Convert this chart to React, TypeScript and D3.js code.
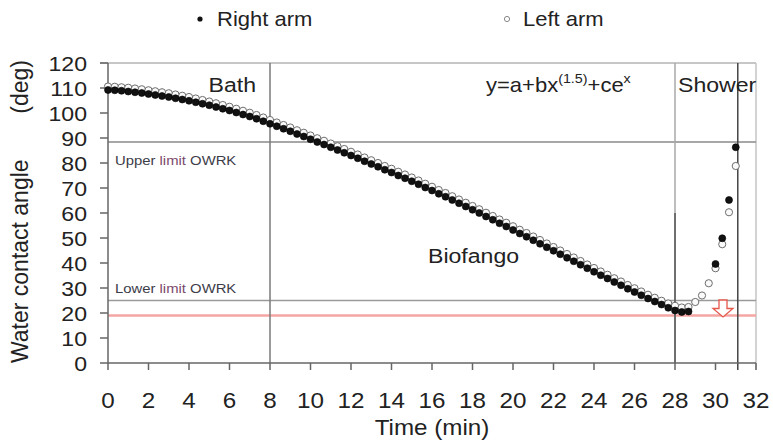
import React from 'react';
import * as d3 from 'd3';

// sample times (seconds), one reading every 20 s
const sampleSeconds = [
  0, 20, 40, 60, 80, 100, 120, 140, 160, 180, 200, 220, 240, 260, 280, 300, 320, 340, 360, 380,
  400, 420, 440, 460, 480, 500, 520, 540, 560, 580, 600, 620, 640, 660, 680, 700, 720, 740, 760, 780,
  800, 820, 840, 860, 880, 900, 920, 940, 960, 980, 1000, 1020, 1040, 1060, 1080, 1100, 1120, 1140, 1160, 1180,
  1200, 1220, 1240, 1260, 1280, 1300, 1320, 1340, 1360, 1380, 1400, 1420, 1440, 1460, 1480, 1500, 1520, 1540, 1560, 1580,
  1600, 1620, 1640, 1660, 1680, 1700, 1720, 1740, 1760, 1780, 1800, 1820, 1840, 1860,
];

const rightArm: (number | null)[] = [
  109.2, 109.1, 108.9, 108.6, 108.3, 108.0, 107.6, 107.2, 106.8, 106.4, 105.9, 105.4,
  104.9, 104.3, 103.7, 103.1, 102.4, 101.7, 101.0, 100.2, 99.4, 98.6, 97.7, 96.7,
  95.7, 94.7, 93.7, 92.7, 91.6, 90.6, 89.5, 88.4, 87.4, 86.3, 85.2, 84.1,
  83.0, 81.9, 80.7, 79.6, 78.5, 77.3, 76.2, 75.0, 73.9, 72.7, 71.5, 70.2,
  69.0, 67.7, 66.5, 65.2, 63.9, 62.6, 61.3, 60.0, 58.6, 57.3, 55.9, 54.6,
  53.2, 51.8, 50.5, 49.1, 47.7, 46.3, 44.9, 43.5, 42.1, 40.7, 39.3, 37.9,
  36.5, 35.1, 33.8, 32.4, 31.1, 29.7, 28.4, 27.1, 25.8, 24.6, 23.4, 22.1,
  21.0, 20.4, 20.6, null, null, null, 39.6, 49.9, 65.2, 86.3,
];

const leftArm: (number | null)[] = [
  110.6, 110.5, 110.3, 110.1, 109.8, 109.5, 109.1, 108.7, 108.3, 107.9, 107.4, 106.9,
  106.4, 105.8, 105.2, 104.6, 103.9, 103.2, 102.5, 101.7, 100.9, 100.1, 99.2, 98.2,
  97.2, 96.2, 95.2, 94.2, 93.1, 92.1, 91.0, 89.9, 88.9, 87.8, 86.7, 85.6,
  84.5, 83.4, 82.2, 81.1, 80.0, 78.8, 77.7, 76.5, 75.4, 74.2, 73.0, 71.7,
  70.5, 69.2, 68.0, 66.7, 65.4, 64.1, 62.8, 61.5, 60.1, 58.8, 57.4, 56.1,
  54.7, 53.3, 52.0, 50.6, 49.2, 47.8, 46.4, 45.0, 43.6, 42.2, 40.8, 39.4,
  38.0, 36.6, 35.3, 33.9, 32.6, 31.2, 29.9, 28.6, 27.3, 26.1, 24.9, 23.8,
  22.9, 22.2, 22.4, 24.4, 27.0, 31.9, 37.9, 47.5, 60.3, 78.8,
];

const xTicks = [0, 2, 4, 6, 8, 10, 12, 14, 16, 18, 20, 22, 24, 26, 28, 30, 32];
const yTicks = [0, 10, 20, 30, 40, 50, 60, 70, 80, 90, 100, 110, 120];

// phase boundaries (min) and reference levels (deg)
const bathEnd = 8;
const showerStart = 28;
const showerEnd = 31.1;
const upperLimit = 88.4;
const lowerLimit = 25;
const redLevel = 19;
const arrowTime = 30.37;

const FONT = '"Liberation Sans", Arial, sans-serif';
const SX = 1.1;

function Label({ x, y, size = 21, anchor = 'start', fill = '#222', children }: any) {
  return (
    <text
      transform={`translate(${x},${y}) scale(${SX},1)`}
      textAnchor={anchor}
      fontSize={size}
      fill={fill}
      fontFamily={FONT}
    >
      {children}
    </text>
  );
}

export default function App() {
  const margin = { top: 63, left: 108 };
  const width = 648, height = 300;

  const x = d3.scaleLinear().domain([0, 32]).range([margin.left, margin.left + width]);
  const y = d3.scaleLinear().domain([0, 120]).range([margin.top + height, margin.top]);

  const pts = (vals: (number | null)[]) =>
    sampleSeconds
      .map((s, i) => ({ t: s / 60, v: vals[i] }))
      .filter((d) => d.v !== null) as { t: number; v: number }[];

  const left = pts(leftArm);
  const right = pts(rightArm);

  const x0 = x(0), x1 = x(32), yB = y(0), yT = y(120);

  // hollow arrow between the grey lower limit and the red line
  const ax = x(arrowTime), aTop = y(lowerLimit) - 0.5, aBot = y(redLevel) + 1.5;
  const aMid = aTop + (aBot - aTop) * 0.5;
  const arrowPath = `M${ax - 4},${aTop} L${ax + 4},${aTop} L${ax + 4},${aMid} L${ax + 10},${aMid} L${ax},${aBot} L${ax - 10},${aMid} L${ax - 4},${aMid} Z`;

  return (
    <svg width={773} height={446} style={{ position: 'absolute', left: 0, top: 0, background: '#fff' }}>
      {/* legend */}
      <circle cx={200} cy={19} r={2.6} fill="#111" />
      <Label x={217} y={26} size={20}>Right arm</Label>
      <circle cx={507} cy={19} r={2.6} fill="#fff" stroke="#888" strokeWidth={1} />
      <Label x={523} y={26} size={20}>Left arm</Label>

      {/* frame */}
      <line x1={x0 - 8} x2={x1} y1={yT} y2={yT} stroke="#b5b5b5" strokeWidth={1.5} />
      <line x1={x1} x2={x1} y1={yT} y2={yB + 7} stroke="#c4c4c4" strokeWidth={1.5} />

      {/* reference levels */}
      <line x1={x0} x2={x1} y1={y(upperLimit)} y2={y(upperLimit)} stroke="#8a8a8a" strokeWidth={1.5} />
      <line x1={x0} x2={x1} y1={y(lowerLimit)} y2={y(lowerLimit)} stroke="#9a9a9a" strokeWidth={1.5} />
      <line x1={x0} x2={x1} y1={y(redLevel)} y2={y(redLevel)} stroke="#f4a6a2" strokeWidth={2.5} />

      {/* phase boundaries */}
      <line x1={x(bathEnd)} x2={x(bathEnd)} y1={yT} y2={yB} stroke="#7a7a7a" strokeWidth={1.5} />
      <line x1={x(showerStart)} x2={x(showerStart)} y1={yT} y2={yB} stroke="#a8a8a8" strokeWidth={1.5} />
      <line x1={x(showerStart)} x2={x(showerStart)} y1={y(60)} y2={yB} stroke="#555" strokeWidth={1.5} />
      <line x1={x(showerEnd)} x2={x(showerEnd)} y1={yT} y2={yB + 7} stroke="#444" strokeWidth={1.5} />

      {/* axes */}
      <line x1={x0} x2={x0} y1={yT} y2={yB} stroke="#666" strokeWidth={1.5} />
      <line x1={x0} x2={x1} y1={yB} y2={yB} stroke="#666" strokeWidth={1.5} />
      {yTicks.map((t) => (
        <g key={'y' + t}>
          <line x1={x0 - 8} x2={x0} y1={y(t)} y2={y(t)} stroke="#666" strokeWidth={1.5} />
          <Label x={87} y={y(t) + 7.5} anchor="end" size={21}>{t}</Label>
        </g>
      ))}
      {xTicks.map((t) => (
        <g key={'x' + t}>
          <line x1={x(t)} x2={x(t)} y1={yB} y2={yB + 7} stroke="#666" strokeWidth={1.5} />
          <Label x={x(t)} y={408} anchor="middle" size={22}>{t}</Label>
        </g>
      ))}

      {/* axis titles */}
      <Label x={x(16)} y={435} anchor="middle" size={22}>Time (min)</Label>
      <text transform={`translate(28,363) scale(1.08,1) rotate(-90)`} fontSize={23} fontFamily={FONT} fill="#222">
        Water contact angle
      </text>
      <text transform={`translate(28,60) scale(1.08,1) rotate(-90)`} textAnchor="end" fontSize={23} fontFamily={FONT} fill="#222">
        (deg)
      </text>

      {/* annotations */}
      <Label x={256} y={92} anchor="end" size={21}>Bath</Label>
      <Label x={486} y={92} size={20}>
        <tspan>y=a+bx</tspan>
        <tspan fontSize={13} dy={-9}>(1.5)</tspan>
        <tspan dy={9}>+ce</tspan>
        <tspan fontSize={13} dy={-9}>x</tspan>
      </Label>
      <Label x={678} y={92} size={21}>Shower</Label>
      <Label x={428} y={263} size={21}>Biofango</Label>
      <Label x={115} y={165} size={13.5}>
        <tspan fill="#3c3c48">Upper </tspan>
        <tspan fill="#7a4a6c">limit</tspan>
        <tspan fill="#3c3c48"> OWRK</tspan>
      </Label>
      <Label x={115} y={293} size={13.5}>
        <tspan fill="#3c3c48">Lower </tspan>
        <tspan fill="#7a4a6c">limit</tspan>
        <tspan fill="#3c3c48"> OWRK</tspan>
      </Label>

      <path d={arrowPath} fill="#fff" stroke="#e4584a" strokeWidth={1.3} />

      {/* data */}
      {left.map((d, i) => (
        <circle key={'l' + i} cx={x(d.t)} cy={y(d.v)} r={3.6} fill="#fafafa" stroke="#6e6e6e" strokeWidth={1} />
      ))}
      {right.map((d, i) => (
        <circle key={'r' + i} cx={x(d.t)} cy={y(d.v)} r={3.5} fill="#111" stroke="#000" strokeWidth={0.6} />
      ))}
    </svg>
  );
}
